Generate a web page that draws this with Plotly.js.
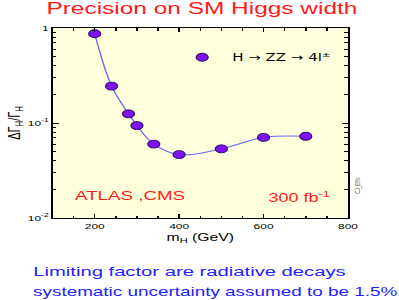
<!DOCTYPE html>
<html>
<head>
<meta charset="utf-8">
<script src="https://cdn.plot.ly/plotly-3.0.1.min.js"></script>
<style>
  html, body { margin: 0; padding: 0; background: #ffffff; overflow: hidden; }
  #wrap { width: 399px; height: 300px; overflow: hidden; }
  #chart { width: 266px; height: 300px; transform: scaleX(1.5); transform-origin: 0 0; }
</style>
</head>
<body>
<div id="wrap"><div id="chart"></div></div>
<script>
// Data
const massGeV = [200, 240, 280, 300, 340, 400, 500, 600, 700];
const widthPrecision = [0.87, 0.245, 0.125, 0.094, 0.060, 0.0465, 0.0535, 0.0705, 0.0725];
const seriesName = 'H \u2192 ZZ \u2192 4l<sup>\u00b1</sup>';
const xTickVals = [200, 400, 600, 800];
const yTickVals = [0.01, 0.1, 1];
const yTickText = ['10<sup>-2</sup>', '10<sup>-1</sup>', '1'];

const curve = {
  x: massGeV,
  y: widthPrecision,
  type: 'scatter',
  mode: 'lines',
  line: { shape: 'spline', smoothing: 1, color: '#6a6af5', width: 1 },
  hoverinfo: 'skip',
  showlegend: false
};

const points = {
  x: massGeV,
  y: widthPrecision,
  name: seriesName,
  type: 'scatter',
  mode: 'markers',
  marker: { size: 8, color: '#7f12f2', line: { color: '#2a0a66', width: 0.8 } },
  showlegend: true
};

const font = 'Liberation Sans, Arial, Helvetica, sans-serif';
// plot area in (unscaled) page pixels: left 35, right 231.7, top 28, bottom 218
const px2paperX = function (px) { return (px - 35) / 196.7; };
const px2paperY = function (py) { return 1 - (py - 28) / 190; };

const layout = {
  width: 266,
  height: 300,
  margin: { l: 35, r: 34.3, t: 28, b: 82, pad: 0 },
  paper_bgcolor: '#ffffff',
  plot_bgcolor: '#ffffdc',
  font: { family: font, color: '#000000', size: 8 },
  title: {
    text: 'Precision on SM Higgs width',
    font: { family: font, size: 16.3, color: '#ff1a1a' },
    x: 0.506, xref: 'container', xanchor: 'center',
    y: 0.974, yref: 'container', yanchor: 'middle'
  },
  xaxis: {
    range: [100, 800],
    tickmode: 'array',
    tickvals: xTickVals,
    ticktext: xTickVals.map(String),
    ticks: 'inside', ticklen: 4, tickwidth: 0.8, tickcolor: '#000',
    minor: { dtick: 50, ticks: 'inside', ticklen: 2.5, tickwidth: 0.8, tickcolor: '#000' },
    showline: true, linecolor: '#000', linewidth: 1, mirror: 'ticks',
    showgrid: false, zeroline: false,
    tickfont: { size: 8 },
    title: { text: 'm<sub>H</sub> (GeV)', font: { size: 10.5 }, standoff: 2 }
  },
  yaxis: {
    type: 'log',
    range: [-2, 0],
    tickmode: 'array',
    tickvals: yTickVals,
    ticktext: yTickText,
    ticks: 'inside', ticklen: 4, tickwidth: 0.8, tickcolor: '#000',
    minor: { dtick: 'D1', ticks: 'inside', ticklen: 2.5, tickwidth: 0.8, tickcolor: '#000' },
    showline: true, linecolor: '#000', linewidth: 1, mirror: 'ticks',
    showgrid: false, zeroline: false,
    tickfont: { size: 8 },
    title: { text: '\u0394\u0393<sub>H</sub>/\u0393<sub>H</sub>', font: { size: 11 }, standoff: 2 }
  },
  legend: {
    x: 0.405, xanchor: 'left',
    y: 0.846, yanchor: 'middle',
    bgcolor: 'rgba(0,0,0,0)', borderwidth: 0,
    font: { family: 'DejaVu Sans, sans-serif', size: 10, color: '#000' }
  },
  annotations: [
    { text: 'ATLAS ,CMS', xref: 'paper', yref: 'paper', x: px2paperX(47.8), y: px2paperY(196),
      xanchor: 'left', yanchor: 'middle', showarrow: false,
      font: { family: font, size: 12.5, color: '#ff1a1a' } },
    { text: '300 fb<sup>-1</sup>', xref: 'paper', yref: 'paper', x: px2paperX(177), y: px2paperY(197),
      xanchor: 'left', yanchor: 'middle', showarrow: false,
      font: { family: font, size: 12, color: '#ff1a1a' } },
    { text: 'CJ_Effic', xref: 'paper', yref: 'paper', x: px2paperX(233), y: px2paperY(185),
      xanchor: 'left', yanchor: 'middle', showarrow: false, textangle: -90,
      font: { family: font, size: 4.5, color: '#555555' } },
    { text: 'Limiting factor are radiative decays', xref: 'paper', yref: 'paper',
      x: px2paperX(20), y: px2paperY(271), xanchor: 'left', yanchor: 'middle', showarrow: false,
      font: { family: font, size: 13.5, color: '#2222ff' } },
    { text: 'systematic uncertainty assumed to be 1.5%', xref: 'paper', yref: 'paper',
      x: px2paperX(20), y: px2paperY(292), xanchor: 'left', yanchor: 'middle', showarrow: false,
      font: { family: font, size: 12.6, color: '#2222ff' } }
  ]
};

Plotly.newPlot('chart', [curve, points], layout, { displayModeBar: false, responsive: false });
</script>
</body>
</html>
